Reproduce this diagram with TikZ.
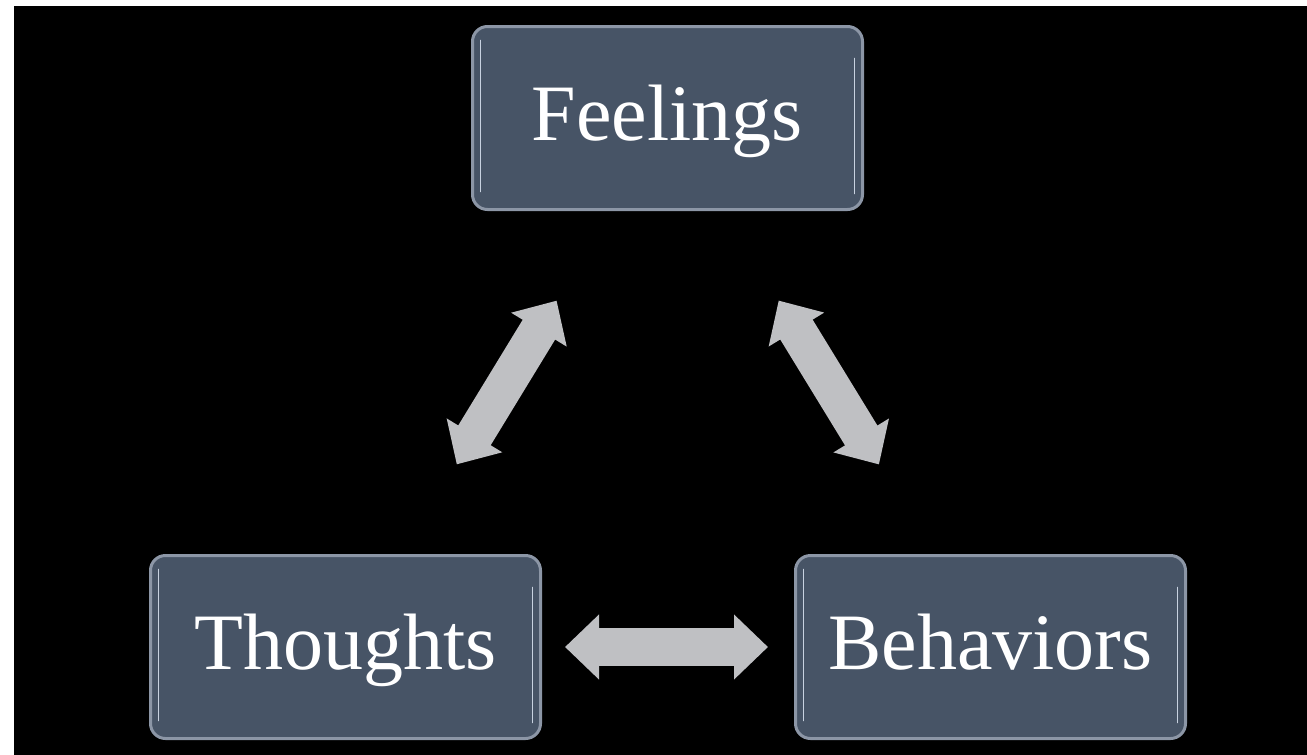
\documentclass[tikz,border=0pt]{standalone}
\usepackage{fontspec}
\setmainfont{Liberation Serif}
\usepackage{tikz}
\usetikzlibrary{arrows.meta,positioning}
\definecolor{BoxFill}{RGB}{71,84,102}
\definecolor{BoxEdge}{RGB}{140,150,166}
\definecolor{Gloss}{RGB}{200,210,224}
\definecolor{ArrowGray}{RGB}{191,192,195}

\begin{document}
\begin{tikzpicture}[x=1pt,y=-1pt,
    stage/.style={draw=BoxEdge, line width=3pt, fill=BoxFill, rounded corners=15pt,
      minimum width=390pt, minimum height=183pt, inner sep=0pt, text=white,
      font=\fontsize{80}{86}\selectfont, text height=52pt, text depth=8pt,
      path picture={
        \draw[Gloss, line width=1.6pt, line cap=round]
          ([xshift=8pt,yshift=-14pt]path picture bounding box.north west) --
          ([xshift=8pt,yshift=18pt]path picture bounding box.south west);
        \draw[Gloss, line width=1.6pt, line cap=round]
          ([xshift=-8pt,yshift=-32pt]path picture bounding box.north east) --
          ([xshift=-8pt,yshift=16pt]path picture bounding box.south east);
      }},
    twoway/.style={ArrowGray, line width=38pt,
      {Triangle[length=34pt,width=63pt]}-{Triangle[length=34pt,width=63pt]}}]
  \useasboundingbox (0,0) rectangle (1307,755);
  \fill[white] (0,0) rectangle (1307,755);
  \fill[black] (14,6) rectangle (1307,755);
  % the three boxes
  \node[stage] (feel) at (667.5,118) {Feelings};
  \node[stage] (thought) at (345.5,647) {Thoughts};
  \node[stage] (behave) at (990.5,647) {Behaviors};
  % two-way arrows
  \draw[twoway, shorten <=105pt, shorten >=105pt] (thought) -- (feel);
  \draw[twoway, shorten <=105pt, shorten >=105pt] (behave) -- (feel);
  \draw[twoway, shorten <=23pt, shorten >=26pt] (thought) -- (behave);
\end{tikzpicture}
\end{document}
